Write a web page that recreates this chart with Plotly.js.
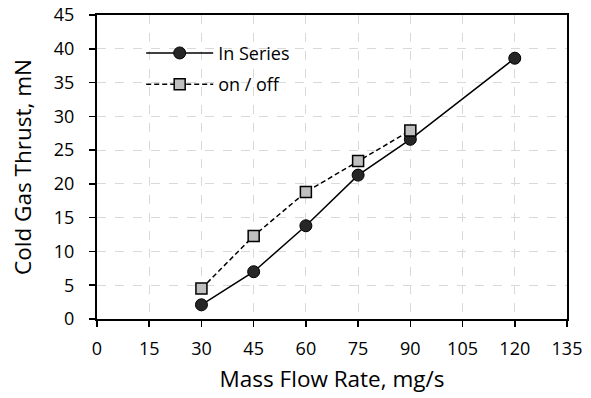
<!DOCTYPE html>
<html><head><meta charset="utf-8">
<script src="https://cdn.plot.ly/plotly-3.0.1.min.js"></script>
<style>html,body{margin:0;padding:0;background:#fff}</style>
</head><body>
<div id="chart" style="width:591px;height:398px"></div>
<script>
var flowRate = [30, 45, 60, 75, 90, 120];
var inSeries = [2.1, 7.0, 13.8, 21.3, 26.6, 38.6];
var flowRateOnOff = [30, 45, 60, 75, 90];
var onOff = [4.5, 12.3, 18.8, 23.4, 27.9];
var xTicks = [0, 15, 30, 45, 60, 75, 90, 105, 120, 135];
var yTicks = [0, 5, 10, 15, 20, 25, 30, 35, 40, 45];

var traces = [
  {x: flowRate, y: inSeries, name: 'In Series', mode: 'lines+markers', type: 'scatter',
   legendgroup: 'a',
   line: {color: '#000', width: 1.5},
   marker: {symbol: 'circle', size: 12, color: '#262626', line: {color: '#000', width: 1}}},
  {x: flowRateOnOff, y: onOff, name: 'on / off', mode: 'lines+markers', type: 'scatter',
   legendgroup: 'b',
   line: {color: '#000', width: 1.5, dash: '5px,3px'},
   marker: {symbol: 'square', size: 11, color: '#bfbfbf', line: {color: '#000', width: 1.5}}}
];
var fam = 'Open Sans, Liberation Sans, sans-serif';
var font = {family: fam, size: 18, color: '#000'};
var layout = {
  width: 591, height: 398,
  margin: {l: 97, r: 24, t: 15, b: 79},
  paper_bgcolor: '#fff', plot_bgcolor: '#fff',
  font: font,
  showlegend: true,
  legend: {x: 0.094, y: 0.935, xanchor: 'left', yanchor: 'top', bgcolor: 'rgba(0,0,0,0)',
           font: {family: fam, size: 18, color: '#000'}, itemwidth: 67,
           traceorder: 'grouped', tracegroupgap: 5},
  xaxis: {range: [0, 135], tickvals: xTicks, ticktext: xTicks.map(String),
          showline: true, linecolor: '#000', linewidth: 2, mirror: true,
          ticks: 'outside', ticklen: 6, tickcolor: '#000', tickwidth: 1.5,
          ticklabelstandoff: 6,
          showgrid: true, gridcolor: '#d9d9d9', griddash: 'dash', gridwidth: 1,
          zeroline: false, tickfont: font,
          title: {text: 'Mass Flow Rate, mg/s', font: {family: fam, size: 22.5, color: '#000'}, standoff: 13}},
  yaxis: {range: [0, 45], tickvals: yTicks, ticktext: yTicks.map(String),
          showline: true, linecolor: '#000', linewidth: 2, mirror: true,
          ticks: 'outside', ticklen: 6, tickcolor: '#000', tickwidth: 1.5,
          ticklabelstandoff: 11,
          showgrid: true, gridcolor: '#d9d9d9', griddash: 'dash', gridwidth: 1,
          zeroline: false, tickfont: font,
          title: {text: 'Cold Gas Thrust, mN', font: {family: fam, size: 22.5, color: '#000'}, standoff: 16}}
};
Plotly.newPlot('chart', traces, layout, {displayModeBar: false, staticPlot: true});
</script>
</body></html>
